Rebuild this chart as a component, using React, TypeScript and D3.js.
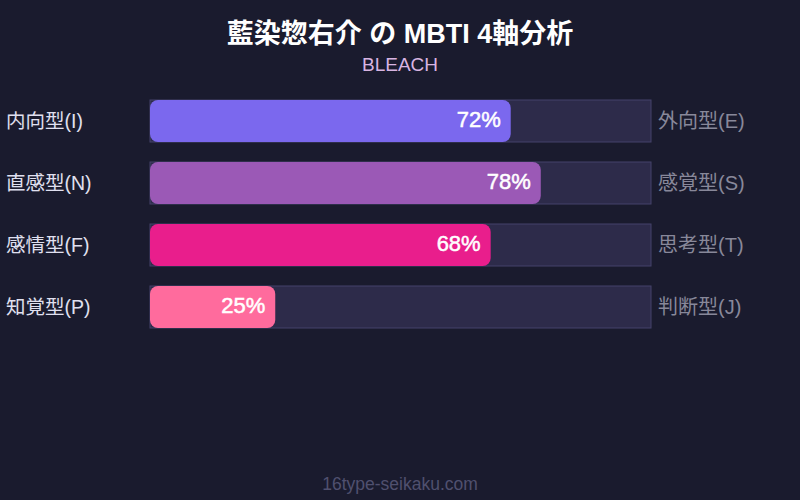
import React, { useEffect, useRef } from "react";
import * as d3 from "d3";

const leftLabels = ["内向型(I)", "直感型(N)", "感情型(F)", "知覚型(P)"];
const rightLabels = ["外向型(E)", "感覚型(S)", "思考型(T)", "判断型(J)"];
const values = [72, 78, 68, 25];
const colors = ["#7b68ee", "#9b59b6", "#e91e8c", "#ff6b9d"];

const FONT = "'Liberation Sans', 'Noto Sans CJK JP', sans-serif";

const App: React.FC = () => {
  const svgRef = useRef<SVGSVGElement>(null);

  useEffect(() => {
    if (!svgRef.current) return;
    const width = 800;
    const height = 500;
    const svg = d3.select(svgRef.current);
    svg.selectAll("*").remove();
    svg.attr("width", width).attr("height", height);

    svg.append("rect").attr("width", width).attr("height", height).attr("fill", "#1a1b2e");

    const x = d3.scaleLinear().domain([0, 100]).range([150, 651]);
    const y = d3.scaleBand<number>().domain(d3.range(values.length)).range([100, 348]);
    const barH = 42;

    svg
      .append("text")
      .attr("x", width / 2)
      .attr("y", 43)
      .attr("text-anchor", "middle")
      .attr("fill", "#ffffff")
      .style("font-family", FONT)
      .style("font-size", "27px")
      .style("font-weight", "bold")
      .text("藍染惣右介 の MBTI 4軸分析");

    svg
      .append("text")
      .attr("x", width / 2)
      .attr("y", 71)
      .attr("text-anchor", "middle")
      .attr("fill", "#d8b4e2")
      .style("font-family", FONT)
      .style("font-size", "19px")
      .text("BLEACH");

    const rows = svg
      .selectAll("g.row")
      .data(values)
      .enter()
      .append("g")
      .attr("class", "row")
      .attr("transform", (_, i) => `translate(0,${y(i)})`);

    rows
      .append("rect")
      .attr("x", x(0))
      .attr("y", 0)
      .attr("width", x(100) - x(0))
      .attr("height", barH)
      .attr("fill", "#2d2b4a")
      .attr("stroke", "#45436a")
      .attr("stroke-width", 1);

    rows
      .append("rect")
      .attr("x", x(0))
      .attr("y", 0)
      .attr("width", (d) => x(d) - x(0))
      .attr("height", barH)
      .attr("rx", 8)
      .attr("fill", (_, i) => colors[i]);

    rows
      .append("text")
      .attr("x", (d) => x(d) - 10)
      .attr("y", 27)
      .attr("text-anchor", "end")
      .attr("fill", "#ffffff")
      .attr("stroke", "#ffffff")
      .attr("stroke-width", 0.5)
      .style("font-family", FONT)
      .style("font-size", "22px")
      .text((d) => `${d}%`);

    rows
      .append("text")
      .attr("x", 6)
      .attr("y", 28)
      .attr("fill", "#e0e0f0")
      .style("font-family", FONT)
      .style("font-size", "19.5px")
      .text((_, i) => leftLabels[i]);

    rows
      .append("text")
      .attr("x", 658)
      .attr("y", 28)
      .attr("fill", "#88889a")
      .style("font-family", FONT)
      .style("font-size", "20px")
      .text((_, i) => rightLabels[i]);

    svg
      .append("text")
      .attr("x", width / 2)
      .attr("y", 490)
      .attr("text-anchor", "middle")
      .attr("fill", "#50506e")
      .style("font-family", FONT)
      .style("font-size", "17.5px")
      .text("16type-seikaku.com");
  }, []);

  return <svg ref={svgRef} style={{ position: "absolute", left: 0, top: 0 }}></svg>;
};

export default App;
